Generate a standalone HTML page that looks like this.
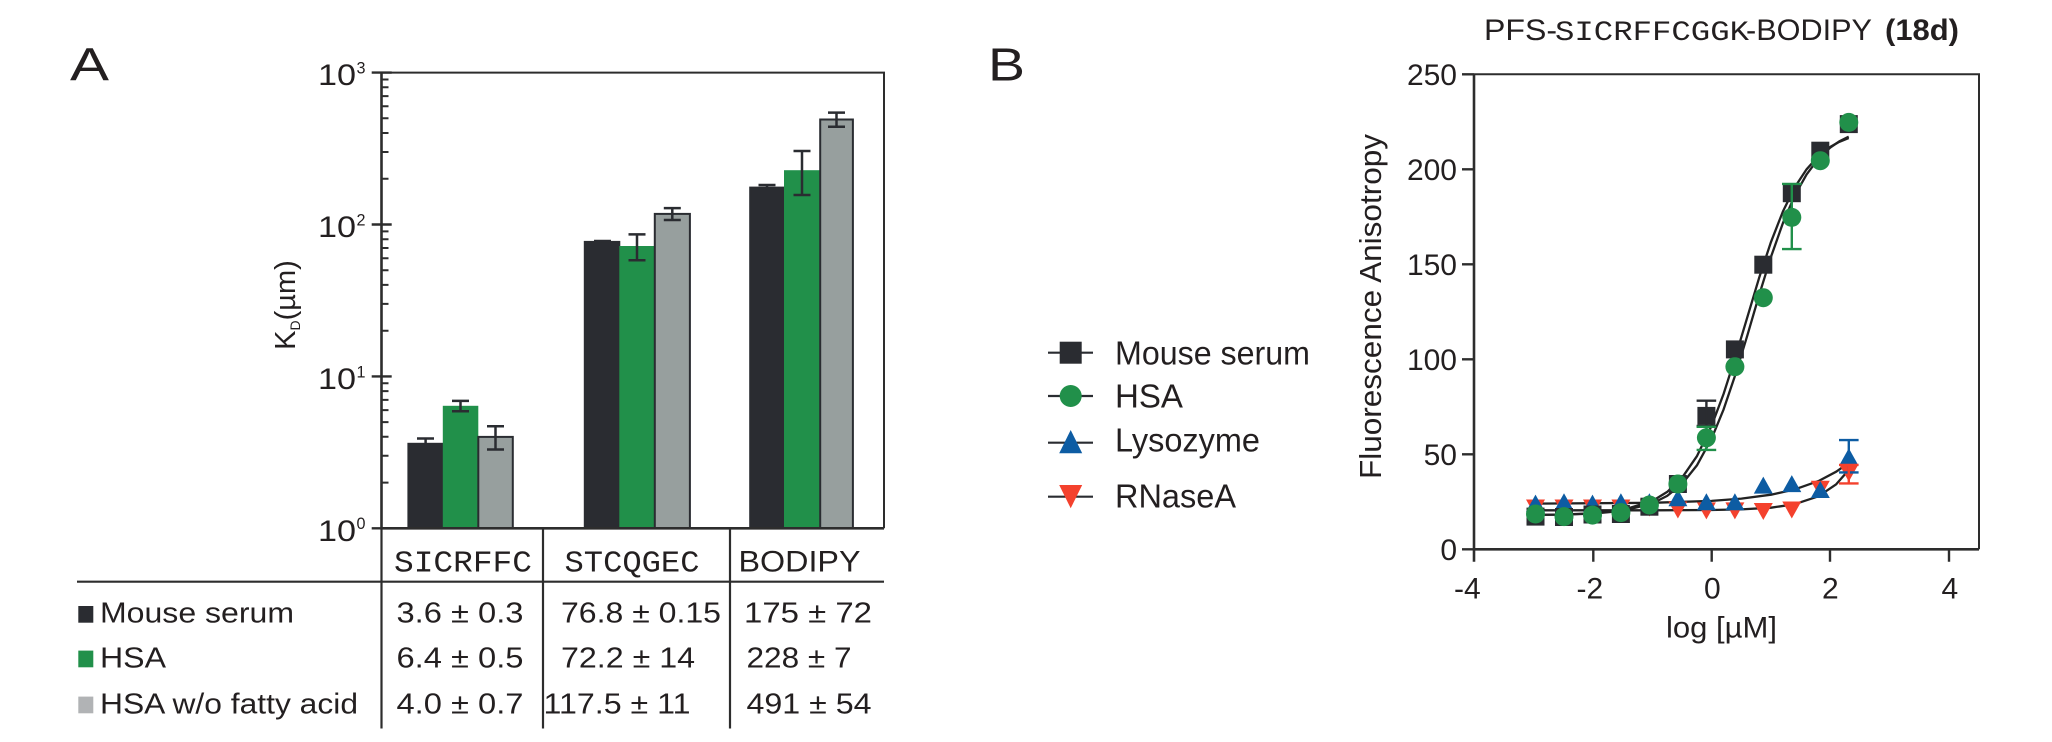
<!DOCTYPE html>
<html><head><meta charset="utf-8"><style>
html,body{margin:0;padding:0;background:#fff;}
svg{display:block;}
text{font-family:"Liberation Sans",Arial,sans-serif;fill:#231f20;}
.m{font-family:"Liberation Mono","Courier New",monospace;}
</style></head><body>
<svg width="2052" height="742" viewBox="0 0 2052 742" xmlns="http://www.w3.org/2000/svg">
<rect width="2052" height="742" fill="#fff"/>

<!-- ================= PANEL A ================= -->
<text x="70" y="80.5" font-size="46" textLength="39" lengthAdjust="spacingAndGlyphs">A</text>

<!-- bars -->
<g stroke="#2a2c31" stroke-width="2">
<rect x="408.4" y="443.8" width="34.4" height="84.5" fill="#2a2c31"/>
<rect x="442.8" y="405.8" width="35.5" height="122.5" fill="#21904a" stroke="none"/>
<rect x="478.3" y="436.9" width="34.5" height="91.4" fill="#979f9e"/>
<rect x="584.8" y="241.9" width="34.5" height="286.4" fill="#2a2c31"/>
<rect x="619.3" y="246.0" width="35.5" height="282.3" fill="#21904a" stroke="none"/>
<rect x="654.8" y="213.9" width="35.1" height="314.4" fill="#979f9e"/>
<rect x="750.2" y="187.6" width="33.8" height="340.7" fill="#2a2c31"/>
<rect x="784.0" y="170.2" width="36.2" height="358.1" fill="#21904a" stroke="none"/>
<rect x="820.2" y="119.5" width="32.7" height="408.8" fill="#979f9e"/>
</g>
<!-- error bars A -->
<g stroke="#2a2c31" stroke-width="2.5" fill="none">
<path d="M425.6 438.5V449.5M417 438.5H434"/>
<path d="M460.5 400.9V411.2M452 400.9H469M452 411.2H469"/>
<path d="M495.5 426.2V449.5M487 426.2H504M487 449.5H504"/>
<path d="M594 241H611"/>
<path d="M637 234.4V260.3M628.5 234.4H645.5M628.5 260.3H645.5"/>
<path d="M672.3 208.1V220M663.8 208.1H680.8M663.8 220H680.8"/>
<path d="M767 185V188M758.5 185H775.5"/>
<path d="M802 151V195M793.5 151H810.5M793.5 195H810.5"/>
<path d="M836.5 112.6V126.7M828 112.6H845M828 126.7H845"/>
</g>
<!-- plot frame A -->
<g stroke="#2d2d2d" fill="none">
<path d="M381.5 72.6H884V528.3" stroke-width="2"/>
<path d="M381.5 72.6V528.3H884" stroke-width="2.6"/>
<path d="M371.7 72.6H391.7M371.7 224.5H391.7M371.7 376.4H391.7M371.7 528.3H391.7" stroke-width="2.4"/>
<path stroke-width="2" d="M381.5 482.6h7M381.5 455.8h7M381.5 436.8h7M381.5 422.1h7M381.5 410.1h7M381.5 399.9h7M381.5 391.1h7M381.5 383.3h7M381.5 330.7h7M381.5 303.9h7M381.5 284.9h7M381.5 270.2h7M381.5 258.2h7M381.5 248h7M381.5 239.2h7M381.5 231.4h7M381.5 178.8h7M381.5 152h7M381.5 133h7M381.5 118.3h7M381.5 106.3h7M381.5 96.1h7M381.5 87.3h7M381.5 79.5h7"/>
</g>
<!-- y tick labels A -->
<g font-size="30">
<text x="318" y="85.1" textLength="38" lengthAdjust="spacingAndGlyphs">10</text>
<text x="318" y="237" textLength="38" lengthAdjust="spacingAndGlyphs">10</text>
<text x="318" y="388.9" textLength="38" lengthAdjust="spacingAndGlyphs">10</text>
<text x="318" y="540.8" textLength="38" lengthAdjust="spacingAndGlyphs">10</text>
</g>
<g font-size="17">
<text x="356.5" y="73.5" textLength="9" lengthAdjust="spacingAndGlyphs">3</text>
<text x="356.5" y="225.4" textLength="9" lengthAdjust="spacingAndGlyphs">2</text>
<text x="356.5" y="377.3" textLength="9" lengthAdjust="spacingAndGlyphs">1</text>
<text x="356.5" y="529.2" textLength="9" lengthAdjust="spacingAndGlyphs">0</text>
</g>
<!-- y axis label A -->
<text transform="translate(295,305) rotate(-90)" x="0" y="0" font-size="29" text-anchor="middle">K<tspan font-size="14" dy="5">D</tspan><tspan dy="-5">(µm)</tspan></text>

<!-- table -->
<g stroke="#2d2d2d" stroke-width="2.2" fill="none">
<path d="M381.5 528.3V728.5M543 528.3V728.5M730 528.3V728.5"/>
<path d="M77 581.7H884"/>
</g>
<text class="m" x="394" y="571.7" font-size="31" textLength="138" lengthAdjust="spacingAndGlyphs">SICRFFC</text>
<text class="m" x="564.5" y="571.7" font-size="31" textLength="135" lengthAdjust="spacingAndGlyphs">STCQGEC</text>
<text x="738.5" y="571.7" font-size="30" textLength="122" lengthAdjust="spacingAndGlyphs">BODIPY</text>

<rect x="78.3" y="606" width="15" height="16.7" fill="#2a2c31"/>
<rect x="78.3" y="650.6" width="15" height="16.7" fill="#21904a"/>
<rect x="78.3" y="696.6" width="15" height="16.7" fill="#b1b3b5"/>
<g font-size="29">
<text x="100" y="622.7" textLength="194" lengthAdjust="spacingAndGlyphs">Mouse serum</text>
<text x="100" y="667.3" textLength="66" lengthAdjust="spacingAndGlyphs">HSA</text>
<text x="100" y="713.3" textLength="258" lengthAdjust="spacingAndGlyphs">HSA w/o fatty acid</text>
<text x="396.5" y="622.7" textLength="127" lengthAdjust="spacingAndGlyphs">3.6 ± 0.3</text>
<text x="396.5" y="667.3" textLength="127" lengthAdjust="spacingAndGlyphs">6.4 ± 0.5</text>
<text x="396.5" y="713.3" textLength="127" lengthAdjust="spacingAndGlyphs">4.0 ± 0.7</text>
<text x="561" y="622.7" textLength="160" lengthAdjust="spacingAndGlyphs">76.8 ± 0.15</text>
<text x="561" y="667.3" textLength="134" lengthAdjust="spacingAndGlyphs">72.2 ± 14</text>
<text x="543.5" y="713.3" textLength="147" lengthAdjust="spacingAndGlyphs">117.5 ± 11</text>
<text x="744" y="622.7" textLength="128" lengthAdjust="spacingAndGlyphs">175 ± 72</text>
<text x="746.5" y="667.3" textLength="105" lengthAdjust="spacingAndGlyphs">228 ± 7</text>
<text x="746.5" y="713.3" textLength="125" lengthAdjust="spacingAndGlyphs">491 ± 54</text>
</g>

<!-- ================= PANEL B ================= -->
<text x="988" y="80.5" font-size="46" textLength="37" lengthAdjust="spacingAndGlyphs">B</text>

<!-- title -->
<text x="1484" y="40" font-size="30" textLength="73" lengthAdjust="spacingAndGlyphs">PFS-</text>
<text class="m" x="1555" y="40" font-size="28" textLength="194" lengthAdjust="spacingAndGlyphs">SICRFFCGGK</text>
<text x="1746" y="40" font-size="30" textLength="126" lengthAdjust="spacingAndGlyphs">-BODIPY</text>
<text x="1885" y="40" font-size="30" font-weight="bold" textLength="74" lengthAdjust="spacingAndGlyphs">(18d)</text>

<!-- legend -->
<g stroke="#2a2c31" stroke-width="2.2">
<path d="M1048 352.7H1093M1048 396H1093M1048 442.7H1093M1048 496.7H1093"/>
</g>
<rect x="1059.7" y="341.7" width="22" height="22" fill="#2a2c31"/>
<circle cx="1070.7" cy="396" r="11" fill="#21904a"/>
<polygon points="1070.7,430 1059.2,453.3 1082.2,453.3" fill="#0d5ca3"/>
<polygon points="1059.2,485 1082.2,485 1070.7,508.3" fill="#f4412d"/>
<g font-size="33">
<text x="1115" y="364.3" textLength="195" lengthAdjust="spacingAndGlyphs">Mouse serum</text>
<text x="1115" y="407.3" textLength="68" lengthAdjust="spacingAndGlyphs">HSA</text>
<text x="1115" y="451.7" textLength="145" lengthAdjust="spacingAndGlyphs">Lysozyme</text>
<text x="1115" y="507.7" textLength="121" lengthAdjust="spacingAndGlyphs">RNaseA</text>
</g>

<!-- axes B -->
<g stroke="#2d2d2d" fill="none">
<path d="M1474 74.3H1979V549.3" stroke-width="2"/>
<path d="M1474 74.3V561.7M1474 549.3H1979" stroke-width="2.6"/>
<path stroke-width="2.4" d="M1462 74.3H1474M1462 169.3H1474M1462 264.3H1474M1462 359.3H1474M1462 454.3H1474M1462 549.3H1474M1593.3 549.3V561.7M1711.7 549.3V561.7M1830 549.3V561.7M1949 549.3V561.7"/>
</g>
<g font-size="30" text-anchor="end">
<text x="1457" y="84.8">250</text>
<text x="1457" y="179.8">200</text>
<text x="1457" y="274.8">150</text>
<text x="1457" y="369.8">100</text>
<text x="1457" y="464.8">50</text>
<text x="1457" y="559.8">0</text>
</g>
<g font-size="30">
<text x="1454" y="598.3">-4</text>
<text x="1576.5" y="598.3">-2</text>
<text x="1704" y="598.3">0</text>
<text x="1822" y="598.3">2</text>
<text x="1941.5" y="598.3">4</text>
<text x="1666" y="637.3" textLength="111" lengthAdjust="spacingAndGlyphs">log [µM]</text>
</g>
<text transform="translate(1381,306.5) rotate(-90)" x="0" y="0" font-size="31" text-anchor="middle" textLength="345" lengthAdjust="spacingAndGlyphs">Fluorescence Anisotropy</text>

<!-- fit curves -->
<g stroke="#222" stroke-width="2.3" fill="none" stroke-linejoin="round">
<polyline points="1535.6,514.9 1563.5,514.5 1593.1,513.3 1622.8,510.0 1652.4,501.0 1667.2,491.9 1682.1,477.7 1696.9,456.2 1711.7,425.5 1723.6,393.9 1735.4,357.0 1747.3,317.3 1759.1,277.9 1771.0,241.9 1782.9,211.5 1794.7,187.4 1806.6,169.3 1818.4,156.1 1830.3,146.9 1839.2,141.9 1848.7,138.0"/>
<polyline points="1535.6,514.9 1563.5,514.6 1593.1,513.6 1622.8,510.9 1652.4,503.4 1667.2,495.9 1682.1,483.9 1696.9,465.4 1711.7,438.3 1723.6,409.4 1735.4,374.6 1747.3,335.6 1759.1,295.2 1771.0,256.8 1782.9,223.1 1794.7,195.6 1806.6,174.4 1818.4,158.7 1830.3,147.5 1839.2,141.4 1848.7,136.6"/>
<polyline points="1535.6,503.6 1652.4,502.8 1711.7,500.9 1741.4,498.6 1771.0,494.7 1794.7,489.4 1818.4,481.1 1836.2,471.7 1848.7,463.0"/>
<polyline points="1535.6,510.3 1652.4,510.3 1711.7,510.0 1741.4,509.4 1771.0,507.7 1794.7,504.2 1818.4,496.3 1836.2,484.3 1848.7,470.0"/>
</g>

<!-- RNaseA markers -->
<g fill="#f4412d">
<polygon points="1526,499.5 1545,499.5 1535.5,516.5"/>
<polygon points="1554.5,499.5 1573.5,499.5 1564,516.5"/>
<polygon points="1583,499.5 1602,499.5 1592.5,516.5"/>
<polygon points="1611.4,499.5 1630.4,499.5 1620.9,516.5"/>
<polygon points="1639.9,499.5 1658.9,499.5 1649.4,516.5"/>
<polygon points="1668.4,501.5 1687.4,501.5 1677.9,518.5"/>
<polygon points="1696.9,502.4 1715.9,502.4 1706.4,519.4"/>
<polygon points="1725.4,502.4 1744.4,502.4 1734.9,519.4"/>
<polygon points="1753.8,503 1772.8,503 1763.3,520"/>
<polygon points="1782.3,501.5 1801.3,501.5 1791.8,518.5"/>
<polygon points="1810.8,480.7 1829.8,480.7 1820.3,497.7"/>
<polygon points="1839.3,464.6 1858.3,464.6 1848.8,481.6"/>
</g>
<!-- Lysozyme markers -->
<g fill="#0d5ca3">
<polygon points="1535.5,494.6 1526,511.6 1545,511.6"/>
<polygon points="1564,493.3 1554.5,510.3 1573.5,510.3"/>
<polygon points="1592.5,494.6 1583,511.6 1602,511.6"/>
<polygon points="1620.9,493.3 1611.4,510.3 1630.4,510.3"/>
<polygon points="1649.4,493.3 1639.9,510.3 1658.9,510.3"/>
<polygon points="1677.9,489.3 1668.4,506.3 1687.4,506.3"/>
<polygon points="1706.4,493.3 1696.9,510.3 1715.9,510.3"/>
<polygon points="1734.9,493.3 1725.4,510.3 1744.4,510.3"/>
<polygon points="1763.3,476.6 1753.8,493.6 1772.8,493.6"/>
<polygon points="1791.8,475.1 1782.3,492.1 1801.3,492.1"/>
<polygon points="1820.3,481 1810.8,498 1829.8,498"/>
<polygon points="1848.8,448.3 1839.3,465.3 1858.3,465.3"/>
</g>
<g stroke-width="2.4" fill="none">
<path stroke="#0d5ca3" d="M1848.8 440.1V472.4M1839 440.1H1858.6M1839 472.4H1858.6"/>
<path stroke="#f4412d" d="M1848.8 464.9V483.4M1839 464.9H1858.6M1839 483.4H1858.6"/>
</g>
<!-- Mouse serum markers -->
<g fill="#2a2c31">
<rect x="1526.5" y="507.6" width="18" height="18"/>
<rect x="1555" y="508" width="18" height="18"/>
<rect x="1583.5" y="505.5" width="18" height="18"/>
<rect x="1611.9" y="505" width="18" height="18"/>
<rect x="1640.4" y="497.7" width="18" height="18"/>
<rect x="1668.9" y="475" width="18" height="18"/>
<rect x="1697.4" y="406.9" width="18" height="18"/>
<rect x="1725.9" y="340.4" width="18" height="18"/>
<rect x="1754.3" y="255.7" width="18" height="18"/>
<rect x="1782.8" y="184.2" width="18" height="18"/>
<rect x="1811.3" y="141.7" width="18" height="18"/>
<rect x="1839.8" y="115.1" width="18" height="18"/>
</g>
<g stroke-width="2.4" fill="none">
<path stroke="#2a2c31" d="M1706.4 400.7V426M1696.6 400.7H1716.2M1696.6 426H1716.2"/>
<path stroke="#21904a" d="M1706.4 426.8V449.9M1696.6 426.8H1716.2M1696.6 449.9H1716.2"/>
<path stroke="#21904a" d="M1791.8 183.9V249.1M1782 183.9H1801.6M1782 249.1H1801.6"/>
</g>
<!-- HSA markers -->
<g fill="#21904a">
<circle cx="1535.5" cy="514" r="9.5"/>
<circle cx="1564" cy="516.6" r="9.5"/>
<circle cx="1592.5" cy="515.1" r="9.5"/>
<circle cx="1620.9" cy="512.6" r="9.5"/>
<circle cx="1649.4" cy="505" r="9.5"/>
<circle cx="1677.9" cy="484" r="9.5"/>
<circle cx="1706.4" cy="437.8" r="9.5"/>
<circle cx="1734.9" cy="366.7" r="9.5"/>
<circle cx="1763.3" cy="297.7" r="9.5"/>
<circle cx="1791.8" cy="217.4" r="9.5"/>
<circle cx="1820.3" cy="160.7" r="9.5"/>
<circle cx="1848.8" cy="122.4" r="9.5"/>
</g>
</svg>
</body></html>
